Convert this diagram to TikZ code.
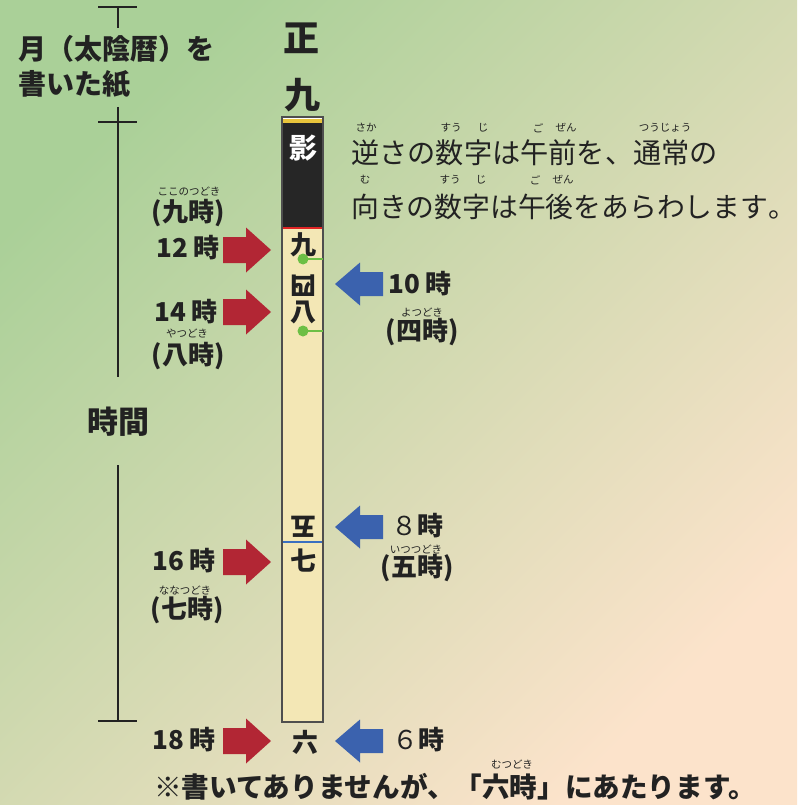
\documentclass[tikz,border=0pt]{standalone}
\usepackage{fontspec}
\setmainfont{Noto Sans CJK JP}
\definecolor{ink}{HTML}{222222}
\definecolor{bgA}{HTML}{AAD098}
\definecolor{bgB}{HTML}{DCDDB6}
\definecolor{bgC}{HTML}{FCE3CB}
\definecolor{arrred}{HTML}{B22634}
\definecolor{arrblue}{HTML}{3B62AE}
\definecolor{cream}{HTML}{F3E7B5}
\definecolor{bandyellow}{HTML}{E9C53C}
\definecolor{stripblack}{HTML}{262626}
\definecolor{noonred}{HTML}{E02424}
\definecolor{lineblue}{HTML}{3A6FC0}
\definecolor{dotgreen}{HTML}{6CBF45}
\begin{document}
\begin{tikzpicture}[x=1pt,y=-1pt,
  lbl/.style={font=\fontsize{26}{26}\selectfont\bfseries, text=ink, inner sep=0pt},
  big/.style={font=\fontsize{28}{28}\selectfont\bfseries, text=ink, inner sep=0pt},
  head/.style={font=\fontsize{36}{36}\selectfont\bfseries, text=ink, inner sep=0pt},
  strip/.style={font=\fontsize{26}{26}\selectfont\bfseries, text=ink, inner sep=0pt},
  body/.style={font=\fontsize{28.2}{28.2}\selectfont, text=ink, inner sep=0pt, anchor=west},
  note/.style={font=\fontsize{27.6}{27.6}\selectfont\bfseries, text=ink, inner sep=0pt, anchor=west},
  ruby/.style={font=\fontsize{10.5}{10.5}\selectfont, text=ink, inner sep=0pt},
  ruler/.style={draw=ink, line width=2pt},
  rarrow/.pic={\fill[arrred] (0,-13) -- (23,-13) -- (23,-22.5) -- (48,0) -- (23,22.5) -- (23,13) -- (0,13) -- cycle;},
  larrow/.pic={\fill[arrblue] (48,-12) -- (25,-12) -- (25,-21.5) -- (0,0) -- (25,21.5) -- (25,12) -- (48,12) -- cycle;},
  gdot/.style={fill=dotgreen}
]
\useasboundingbox (0,0) rectangle (797,805);
\begin{scope}[y=1pt]
\shade[top color=bgA, middle color=bgB, bottom color=bgC, shading angle=45] (0,-805) rectangle (797,0);
\end{scope}

% ruler
\coordinate (rt1) at (98,7);   \coordinate (rt2) at (137,7);
\coordinate (rv1) at (118,7);  \coordinate (rv2) at (118,28);
\coordinate (rm1) at (98,122); \coordinate (rm2) at (137,122);
\coordinate (rv3) at (118,107); \coordinate (rv4) at (118,377);
\coordinate (rv5) at (118,465); \coordinate (rv6) at (118,721);
\coordinate (rb1) at (98,721); \coordinate (rb2) at (137,721);
\draw[ruler] (rt1) -- (rt2);
\draw[ruler] (rv1) -- (rv2);
\draw[ruler] (rm1) -- (rm2);
\draw[ruler] (rv3) -- (rv4);
\draw[ruler] (rv5) -- (rv6);
\draw[ruler] (rb1) -- (rb2);

\node[big, anchor=west] (paper1) at (18,49) {月（太陰暦）を};
\node[big, anchor=west] (paper2) at (18,84) {書いた紙};
\node[font=\fontsize{31}{31}\selectfont\bfseries, text=ink, inner sep=0pt] (jikan) at (118,422) {時間};

% strip
\fill[cream] (282,117) rectangle (323,722);
\fill[stripblack] (282,123.5) rectangle (323,228);
\fill[bandyellow] (282,118.8) rectangle (323,123.5);
\fill[white] (282,117) rectangle (323,118.8);
\draw[noonred, line width=2.2pt] (282,228) -- (323,228);
\draw[lineblue, line width=2pt] (282,542) -- (323,542);
\draw[draw=ink!80, line width=1.3pt] (282,117) rectangle (323,722);

\coordinate (g1e) at (323,259);
\coordinate (g2e) at (323,331);
\draw[dotgreen, line width=1.2pt] (303,259) -- (g1e);
\draw[dotgreen, line width=1.2pt] (303,331) -- (g2e);
\fill[gdot] (303,259) circle (5.5);
\fill[gdot] (303,331) circle (5.5);

\node[head] (sho) at (301,38) {正};
\node[head] (ku) at (302,95) {九};
\node[strip, text=white, font=\fontsize{28}{28}\selectfont\bfseries] (kage) at (303,148) {影};
\node[strip] (s9) at (303,245) {九};
\node[strip, rotate=180] (s4) at (303,286) {四};
\node[strip] (s8) at (303,312) {八};
\node[strip, rotate=180] (s5) at (303,527) {五};
\node[strip] (s7) at (303,561) {七};
\node[strip] (s6) at (305,742) {六};

% left labels
\node[ruby] (r9) at (189,191) {ここのつどき};
\node[lbl] (k9) at (188,213) {(九時)};
\node[lbl] (t12) at (188,248) {12 時};
\pic at (223,250) {rarrow};
\node[lbl] (t14) at (186,312) {14 時};
\pic at (223,312) {rarrow};
\node[ruby] (r8) at (187,333) {やつどき};
\node[lbl] (k8) at (188,356) {(八時)};
\node[lbl] (t16) at (184,561) {16 時};
\pic at (223,562) {rarrow};
\node[ruby] (r7) at (185,590) {ななつどき};
\node[lbl] (k7) at (187,610) {(七時)};
\node[lbl] (t18) at (184,740) {18 時};
\pic at (223,741) {rarrow};

% right labels
\pic at (335,284) {larrow};
\node[lbl] (t10) at (420,284) {10 時};
\node[ruby] (r4) at (422,312) {よつどき};
\node[lbl] (k4) at (422,332) {(四時)};
\pic at (335,527) {larrow};
\node[lbl] (t8) at (417,526) {{\mdseries ８}時};
\node[ruby] (r5) at (416,549) {いつつどき};
\node[lbl] (k5) at (417,568) {(五時)};
\pic at (335,741) {larrow};
\node[lbl] (t6) at (418,740) {{\mdseries ６}時};

% explanation
\node[ruby] (ra) at (366,128) {さか};
\node[ruby] (rb) at (451,128) {すう};
\node[ruby] (rc) at (483,128) {じ};
\node[ruby] (rd) at (538,128) {ご};
\node[ruby] (re) at (566,128) {ぜん};
\node[ruby] (rf) at (665,128) {つうじょう};
\node[body] (line1) at (351,153) {逆さの数字は午前を、通常の};
\node[ruby] (rg) at (365,180) {む};
\node[ruby] (rh) at (450,180) {すう};
\node[ruby] (ri) at (481,180) {じ};
\node[ruby] (rj) at (535,180) {ご};
\node[ruby] (rk) at (563,180) {ぜん};
\node[body, font=\fontsize{27.8}{27.8}\selectfont] (line2) at (351,207) {向きの数字は午後をあらわします\makebox[0.55em][l]{。}};

% note
\node[ruby] (rm) at (512,764) {むつどき};
\node[note] (nt) at (154,787) {※書いてありませんが、「六時」にあたります。};
\end{tikzpicture}
\end{document}
